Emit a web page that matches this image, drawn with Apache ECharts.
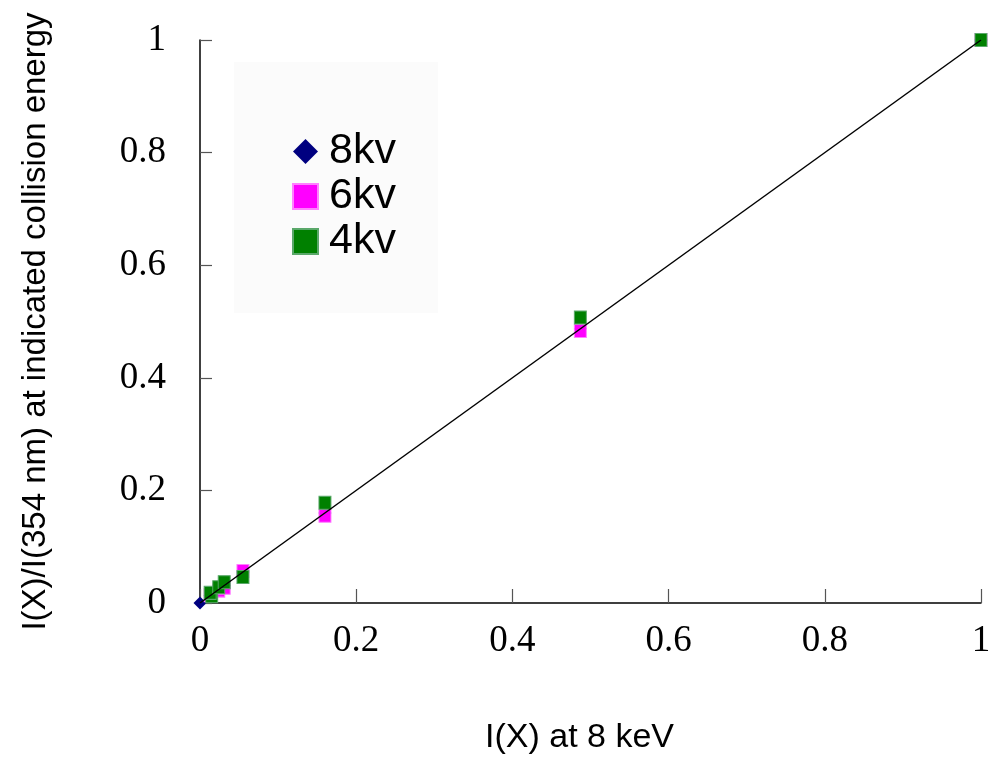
<!DOCTYPE html>
<html>
<head>
<meta charset="utf-8">
<script src="https://cdn.jsdelivr.net/npm/echarts@6/dist/echarts.min.js"></script>
<style>html,body{margin:0;padding:0;background:#fff}#c{width:994px;height:765px}</style>
</head>
<body>
<div id="c"></div>
<script>
var seriesNames = ['8kv', '6kv', '4kv'];
var kv8 = [[0, 0], [0.013, 0.013], [0.024, 0.024], [0.031, 0.031], [0.055, 0.055], [0.160, 0.160], [0.487, 0.487], [1, 1]];
var kv6 = [[0.013, 0.014], [0.024, 0.022], [0.031, 0.027], [0.055, 0.057], [0.160, 0.155], [0.487, 0.483], [1, 1]];
var kv4 = [[0.015, 0.012], [0.013, 0.018], [0.024, 0.028], [0.031, 0.037], [0.055, 0.046], [0.160, 0.178], [0.487, 0.507], [1, 1]];
var fitLine = [[0, 0], [1, 1]];
var tickValues = [0, 0.2, 0.4, 0.6, 0.8, 1];

var chart = echarts.init(document.getElementById('c'), null, {renderer: 'canvas'});
var tickFont = {fontFamily: 'Liberation Serif', fontSize: 37, color: '#000'};
function fmt(v) { return String(Math.round(v * 10) / 10); }

chart.setOption({
  animation: false,
  backgroundColor: '#fff',
  graphic: [{
    type: 'rect', left: 234, top: 62, shape: {width: 204, height: 251},
    style: {fill: '#fbfbfb'}, z: 0, silent: true
  }],
  grid: {left: 200, right: 13, top: 40, bottom: 162, containLabel: false},
  legend: {
    orient: 'vertical', left: 287, top: 125, itemWidth: 25, itemHeight: 25, itemGap: 2,
    textStyle: {fontFamily: 'Liberation Sans', fontSize: 43, color: '#000', padding: [0, 0, 0, 6]},
    data: [
      {name: '8kv', icon: 'diamond'},
      {name: '6kv', icon: 'rect'},
      {name: '4kv', icon: 'rect'}
    ]
  },
  xAxis: {
    type: 'value', min: 0, max: 1, interval: 0.2,
    name: 'I(X) at 8 keV', nameLocation: 'middle', nameGap: 118,
    nameTextStyle: {fontFamily: 'Liberation Sans', fontSize: 34, color: '#000', padding: [0, 22, 0, 0]},
    axisLine: {show: true, lineStyle: {color: '#000', width: 1.5}},
    axisTick: {show: true, inside: true, length: 14, lineStyle: {color: '#555', width: 1.2}},
    axisLabel: Object.assign({margin: 20, formatter: fmt}, tickFont),
    splitLine: {show: false}
  },
  yAxis: {
    type: 'value', min: 0, max: 1, interval: 0.2,
    name: 'I(X)/I(354 nm) at indicated collision energy', nameLocation: 'middle', nameGap: 148,
    nameTextStyle: {fontFamily: 'Liberation Sans', fontSize: 33, color: '#000'},
    axisLine: {show: true, lineStyle: {color: '#000', width: 1.5}},
    axisTick: {show: true, inside: true, length: 12, lineStyle: {color: '#555', width: 1.2}},
    axisLabel: Object.assign({margin: 34, formatter: fmt}, tickFont),
    splitLine: {show: false}
  },
  series: [
    {name: seriesNames[0], type: 'scatter', data: kv8, symbol: 'diamond', symbolSize: 13,
     itemStyle: {color: '#000080', opacity: 1}, z: 2},
    {name: seriesNames[1], type: 'scatter', data: kv6, symbol: 'rect', symbolSize: [12, 13],
     itemStyle: {color: '#ff00ff', borderColor: '#ff80ff', borderWidth: 1, opacity: 1}, z: 3},
    {name: seriesNames[2], type: 'scatter', data: kv4, symbol: 'rect', symbolSize: [12, 13],
     itemStyle: {color: '#008000', borderColor: '#5aa86a', borderWidth: 1, opacity: 1}, z: 4},
    {name: 'fit', type: 'line', data: fitLine, symbol: 'none', silent: true,
     lineStyle: {color: '#000', width: 1.5}, z: 5}
  ]
});
</script>
</body>
</html>
